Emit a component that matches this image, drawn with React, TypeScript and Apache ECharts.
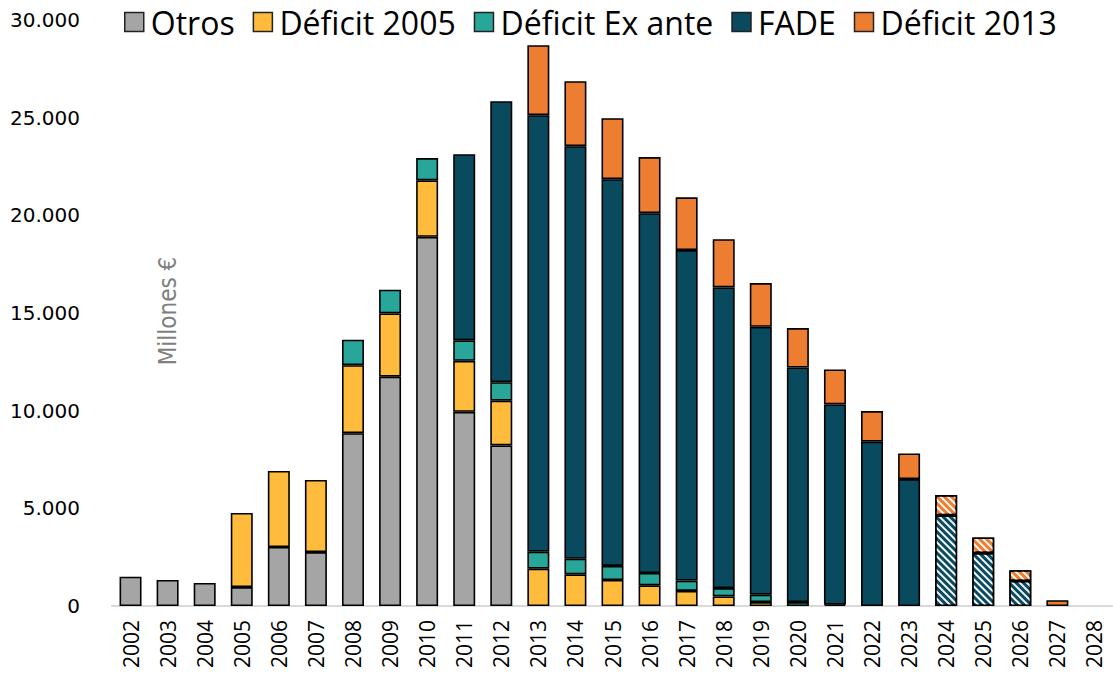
import React, { useEffect, useRef } from "react";
import * as echarts from "echarts";

const years = ["2002","2003","2004","2005","2006","2007","2008","2009","2010","2011","2012","2013","2014","2015","2016","2017","2018","2019","2020","2021","2022","2023","2024","2025","2026","2027","2028"];

const otros = [1500,1330,1180,970,3020,2760,8850,11740,18900,9940,8220,0,0,0,0,0,0,0,0,0,0,0,0,0,0,0,0];
const deficit2005 = [0,0,0,3790,3890,3690,3480,3240,2890,2610,2290,1910,1620,1330,1060,770,490,200,0,0,0,0,0,0,0,0,0];
const exAnte = [0,0,0,0,0,0,1300,1210,1140,1050,950,870,800,720,630,530,430,380,200,70,0,0,0,0,0,0,0];
const fade = [0,0,0,0,0,0,0,0,0,9530,14380,22350,21120,19800,18420,16920,15390,13710,12010,10250,8410,6500,4640,2710,1280,0,0];
const deficit2013 = [0,0,0,0,0,0,0,0,0,0,0,3580,3330,3120,2870,2700,2470,2240,2020,1790,1570,1310,1040,800,550,300,0];
// years whose values are projections (hatched)
const projected = ["2024","2025","2026"];

const seriesNames = ["Otros","Déficit 2005","Déficit Ex ante","FADE","Déficit 2013"];
const seriesColors = ["#a5a5a5","#ffbc3c","#27a699","#0a4a5f","#ed7d31"];

const hatch = {
  symbol: "rect",
  symbolSize: 1,
  dashArrayX: [[1, 0]],
  dashArrayY: [2, 3],
  rotation: Math.PI / 4,
  color: "rgba(255,255,255,0.95)",
};

function build(values: number[]) {
  return values.map((v, i) =>
    v === 0
      ? "-"
      : projected.includes(years[i])
      ? { value: v, itemStyle: { decal: hatch } }
      : v
  );
}

export default function App() {
  const ref = useRef<HTMLDivElement>(null);
  useEffect(() => {
    document.body.style.margin = "0";
    const chart = echarts.init(ref.current!, null, { renderer: "svg" });
    const all = [otros, deficit2005, exAnte, fade, deficit2013];
    chart.setOption({
      animation: false,
      backgroundColor: "#ffffff",
      legend: {
        left: 119,
        top: 1,
        itemWidth: 19,
        itemHeight: 19,
        itemGap: 18,
        icon: "rect",
        textStyle: {
          fontFamily: "Open Sans",
          fontSize: 32,
          color: "#000",
          padding: [0, 0, 0, 2],
        },
        itemStyle: { borderColor: "#222", borderWidth: 1.5 },
        data: seriesNames,
      },
      grid: { left: 112, right: 0, top: 20, bottom: 68 },
      xAxis: {
        type: "category",
        data: years,
        axisLine: { lineStyle: { color: "#d9d9d9", width: 2 } },
        axisTick: { show: false },
        axisLabel: {
          rotate: 90,
          margin: 14,
          fontFamily: "Open Sans",
          fontSize: 21,
          color: "#000",
        },
      },
      yAxis: {
        type: "value",
        min: 0,
        max: 30000,
        interval: 5000,
        splitLine: { show: false },
        axisLine: { show: false },
        axisTick: { show: false },
        axisLabel: {
          margin: 32,
          fontFamily: "DejaVu Sans",
          fontSize: 20,
          color: "#000",
          formatter: (v: number) =>
            v.toString().replace(/\B(?=(\d{3})+(?!\d))/g, "."),
        },
      },
      graphic: [
        {
          type: "text",
          x: 168,
          y: 311,
          rotation: Math.PI / 2,
          style: {
            text: "Millones €",
            fontFamily: "Liberation Sans Narrow, DejaVu Sans Condensed",
            fontSize: 24,
            fill: "#7f7f7f",
            align: "center",
            verticalAlign: "middle",
          },
        },
      ],
      series: seriesNames.map((name, k) => ({
        name,
        type: "bar",
        stack: "total",
        barWidth: 22,
        itemStyle: {
          color: seriesColors[k],
          borderColor: "#000",
          borderWidth: 1.6,
        },
        data: build(all[k]),
      })),
    });
    return () => chart.dispose();
  }, []);
  return <div ref={ref} style={{ width: 1113, height: 674 }} />;
}
